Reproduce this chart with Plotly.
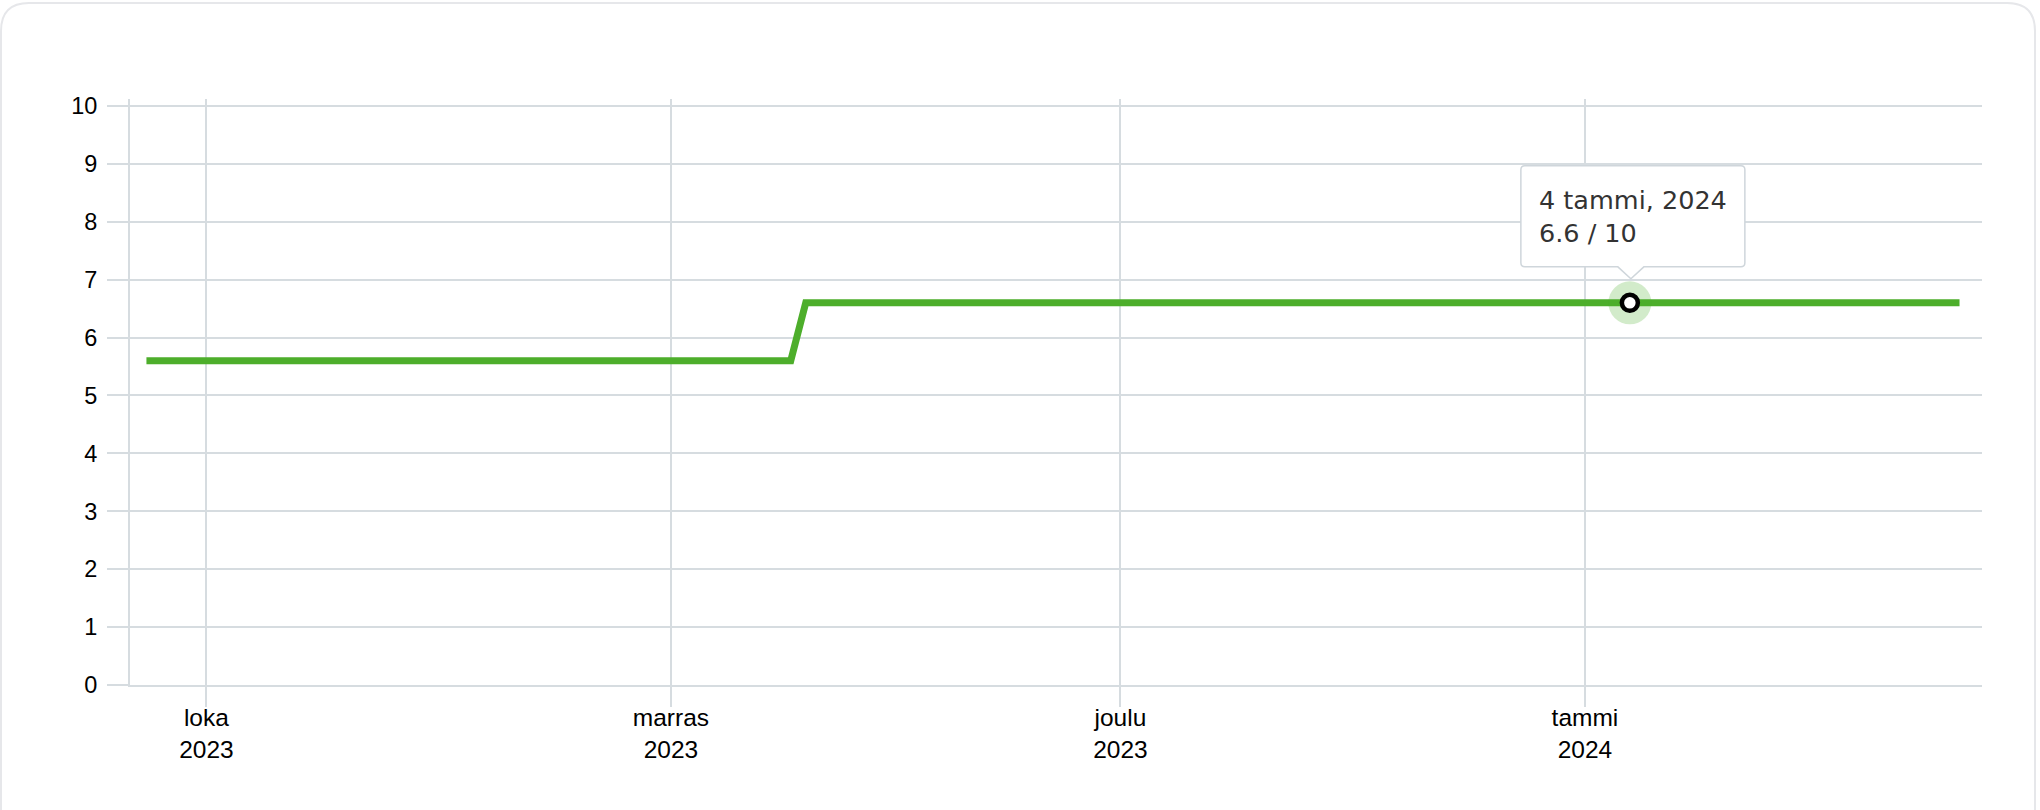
import plotly.graph_objects as go

# ---- data ----
dates = ["2023-09-27", "2023-11-09", "2023-11-10", "2024-01-04", "2024-01-26"]
scores = [5.6, 5.6, 6.6, 6.6, 6.6]

hover_date = "2024-01-04"
hover_value = 6.6
hover_label = "4 tammi, 2024"
hover_max = 10

month_ticks = ["2023-10-01", "2023-11-01", "2023-12-01", "2024-01-01"]
month_labels = ["loka<br>2023", "marras<br>2023", "joulu<br>2023", "tammi<br>2024"]
y_ticks = [0, 1, 2, 3, 4, 5, 6, 7, 8, 9, 10]

# ---- style ----
GREEN = "#4dae2b"
GRID = "#d6dce0"
W, H = 2040, 810
ML, MR, MT, MB = 130, 58, 99, 125
PW, PH = W - ML - MR, H - MT - MB


def px2paper(x, y):
    return (x - ML) / PW, (H - MB - y) / PH


fig = go.Figure()

fig.add_trace(go.Scatter(
    x=dates, y=scores, mode="lines",
    line=dict(color=GREEN, width=7, shape="linear"),
    hoverinfo="skip", showlegend=False,
))
# halo
fig.add_trace(go.Scatter(
    x=[hover_date], y=[hover_value], mode="markers",
    marker=dict(size=43, color="rgba(77,174,43,0.25)", line=dict(width=0)),
    hoverinfo="skip", showlegend=False,
))
fig.add_trace(go.Scatter(
    x=[hover_date], y=[hover_value], mode="markers",
    marker=dict(size=16, color="white", line=dict(width=4.5, color="black")),
    hoverinfo="skip", showlegend=False,
))

# card border
def card_path():
    L, R, T, B, r = 1, 2035, 3, 840, 28
    def p(x, y):
        a, b = px2paper(x, y)
        return f"{a:.5f},{b:.5f}"
    return (f"M {p(L, B)} L {p(L, T + r)} Q {p(L, T)} {p(L + r, T)} "
            f"L {p(R - r, T)} Q {p(R, T)} {p(R, T + r)} L {p(R, B)}")

fig.add_shape(type="path", xref="paper", yref="paper", path=card_path(),
              line=dict(color="#e6e7ea", width=2), layer="below")

# tooltip box (pixel offsets relative to the hovered point, positive = up)
Lb, Rb, Tb, Bb, r = -109, 115, 137, 36, 4
tip = (f"M {Lb + r},{Tb} L {Rb - r},{Tb} Q {Rb},{Tb} {Rb},{Tb - r} "
       f"L {Rb},{Bb + r} Q {Rb},{Bb} {Rb - r},{Bb} "
       f"L 14,{Bb} L 1,24 L -12,{Bb} "
       f"L {Lb + r},{Bb} Q {Lb},{Bb} {Lb},{Bb + r} "
       f"L {Lb},{Tb - r} Q {Lb},{Tb} {Lb + r},{Tb} Z")
fig.add_shape(type="path", xref="x", yref="y", xsizemode="pixel", ysizemode="pixel",
              xanchor=hover_date, yanchor=hover_value, path=tip,
              fillcolor="white", line=dict(color="#cfd6db", width=1.5), layer="above")

fig.add_annotation(
    x=hover_date, y=hover_value, xref="x", yref="y",
    text=f"{hover_label}<br>{hover_value} / {hover_max}",
    showarrow=False, xanchor="left", yanchor="middle", align="left",
    xshift=-92, yshift=86, borderpad=0,
    font=dict(family="DejaVu Sans", size=25.5, color="#333333"),
)

fig.update_layout(
    width=W, height=H, autosize=False,
    margin=dict(l=ML, r=MR, t=MT, b=MB, pad=0),
    paper_bgcolor="white", plot_bgcolor="white",
    font=dict(family="Liberation Sans, Arial, sans-serif", color="#000000"),
    showlegend=False,
)
fig.update_xaxes(
    type="date", range=["2023-09-25 21:40", "2024-01-27 12:00"],
    tickmode="array", tickvals=month_ticks, ticktext=month_labels,
    tickfont=dict(size=24.5, color="#000000"),
    showgrid=True, gridcolor=GRID, gridwidth=2,
    ticks="outside", ticklen=20, tickwidth=2, tickcolor=GRID,
    showline=True, linecolor=GRID, linewidth=2,
    zeroline=False, fixedrange=True, ticklabelstandoff=-10,
)
fig.update_yaxes(
    range=[0, 10.12], tickmode="array", tickvals=y_ticks,
    tickfont=dict(size=23.5, color="#000000"),
    showgrid=True, gridcolor=GRID, gridwidth=2,
    ticks="outside", ticklen=21, tickwidth=2, tickcolor=GRID,
    showline=True, linecolor=GRID, linewidth=2,
    zeroline=False, ticklabelstandoff=5, fixedrange=True,
)

fig.write_html("out.html", config={"displayModeBar": False},
               post_script="document.body.style.margin='0';document.body.style.padding='0';")
